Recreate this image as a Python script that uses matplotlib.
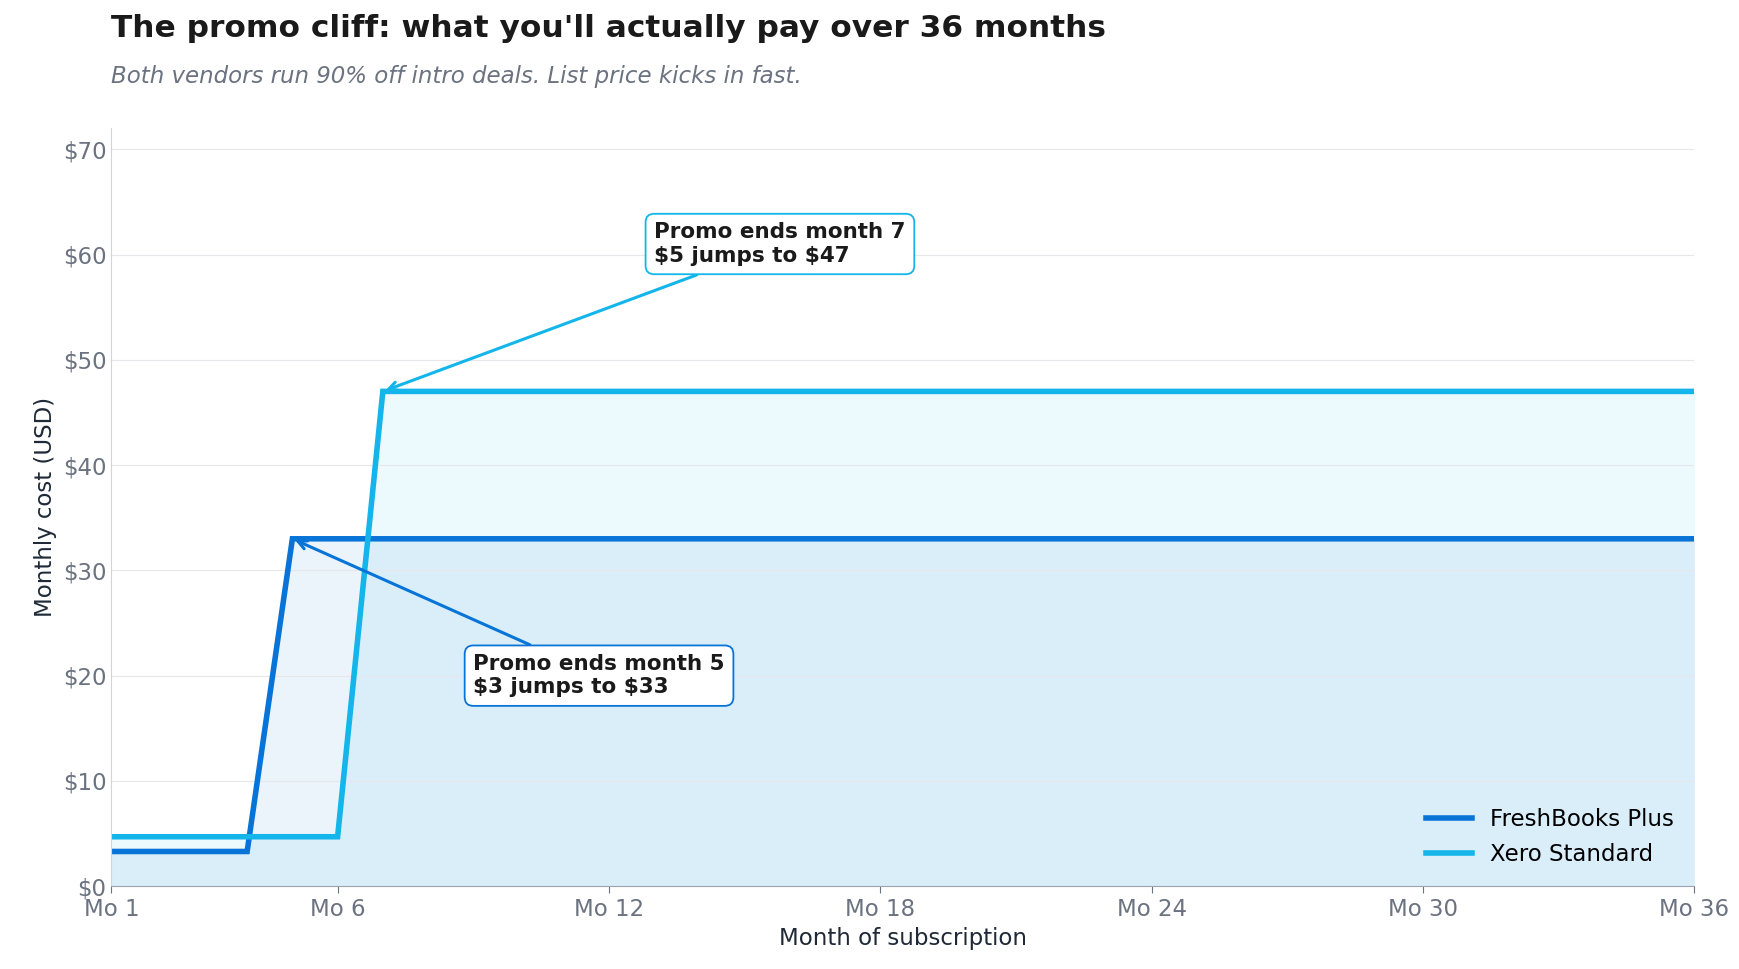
import matplotlib
matplotlib.use("Agg")
import matplotlib.pyplot as plt

months = list(range(1, 37))
freshbooks = [3.3]*4 + [33]*32
xero = [4.7]*6 + [47]*30
xticks = [1, 6, 12, 18, 24, 30, 36]
yticks = [0, 10, 20, 30, 40, 50, 60, 70]

c_fb = "#0874d8"
c_xe = "#13b5ea"
grey = "#6b7280"
S = 1739/1560

fig = plt.figure(figsize=(17.39, 9.69), dpi=100)
W, H = 1560, 969/S
ax = fig.add_axes([100/W, 1-795/H, 1420/W, 680/H])

ax.fill_between(months, xero, 0, color=c_xe, alpha=0.08, lw=0)
ax.fill_between(months, freshbooks, 0, color=c_fb, alpha=0.08, lw=0)
ax.plot(months, freshbooks, color=c_fb, lw=4, label="FreshBooks Plus", solid_joinstyle="miter")
ax.plot(months, xero, color=c_xe, lw=4, label="Xero Standard", solid_joinstyle="miter")

ax.set_xlim(1, 36)
ax.set_ylim(0, 72)
ax.set_xticks(xticks)
ax.set_xticklabels([f"Mo {m}" for m in xticks])
ax.set_yticks(yticks)
ax.set_yticklabels([f"\\${v}" for v in yticks])
ax.tick_params(colors=grey, labelsize=16.5, length=5)
ax.tick_params(axis="y", length=0)
ax.grid(axis="y", color="#e5e7eb", lw=0.8)
for s in ["top", "right"]:
    ax.spines[s].set_visible(False)
ax.spines["left"].set_color("#d1d5db")
ax.spines["bottom"].set_color("#9ca3af")
ax.set_xlabel("Month of subscription", fontsize=16.5, color="#1f2937")
ax.set_ylabel("Monthly cost (USD)", fontsize=16.5, color="#1f2937")

ax.annotate("Promo ends month 5\n\\$3 jumps to \\$33", xy=(5, 33), xytext=(9, 20),
            fontsize=15.5, fontweight="bold", color="#1a1a1a", va="center",
            bbox=dict(boxstyle="round,pad=0.4", fc="white", ec=c_fb, lw=1.3),
            arrowprops=dict(arrowstyle="->", color=c_fb, lw=2.2, shrinkA=0, shrinkB=2))
ax.annotate("Promo ends month 7\n\\$5 jumps to \\$47", xy=(7, 47), xytext=(13, 61),
            fontsize=15.5, fontweight="bold", color="#1a1a1a", va="center",
            bbox=dict(boxstyle="round,pad=0.4", fc="white", ec=c_xe, lw=1.3),
            arrowprops=dict(arrowstyle="->", color=c_xe, lw=2.2, shrinkA=0, shrinkB=2))

ax.legend(loc="lower right", frameon=False, fontsize=16.5)

fig.text(100/W, 1-26/H, "The promo cliff: what you'll actually pay over 36 months",
         fontsize=22.5, fontweight="bold", color="#1a1a1a", va="center")
fig.text(100/W, 1-69/H, "Both vendors run 90% off intro deals. List price kicks in fast.",
         fontsize=16.5, style="italic", color=grey, va="center")

fig.savefig("out.png", dpi=100)
